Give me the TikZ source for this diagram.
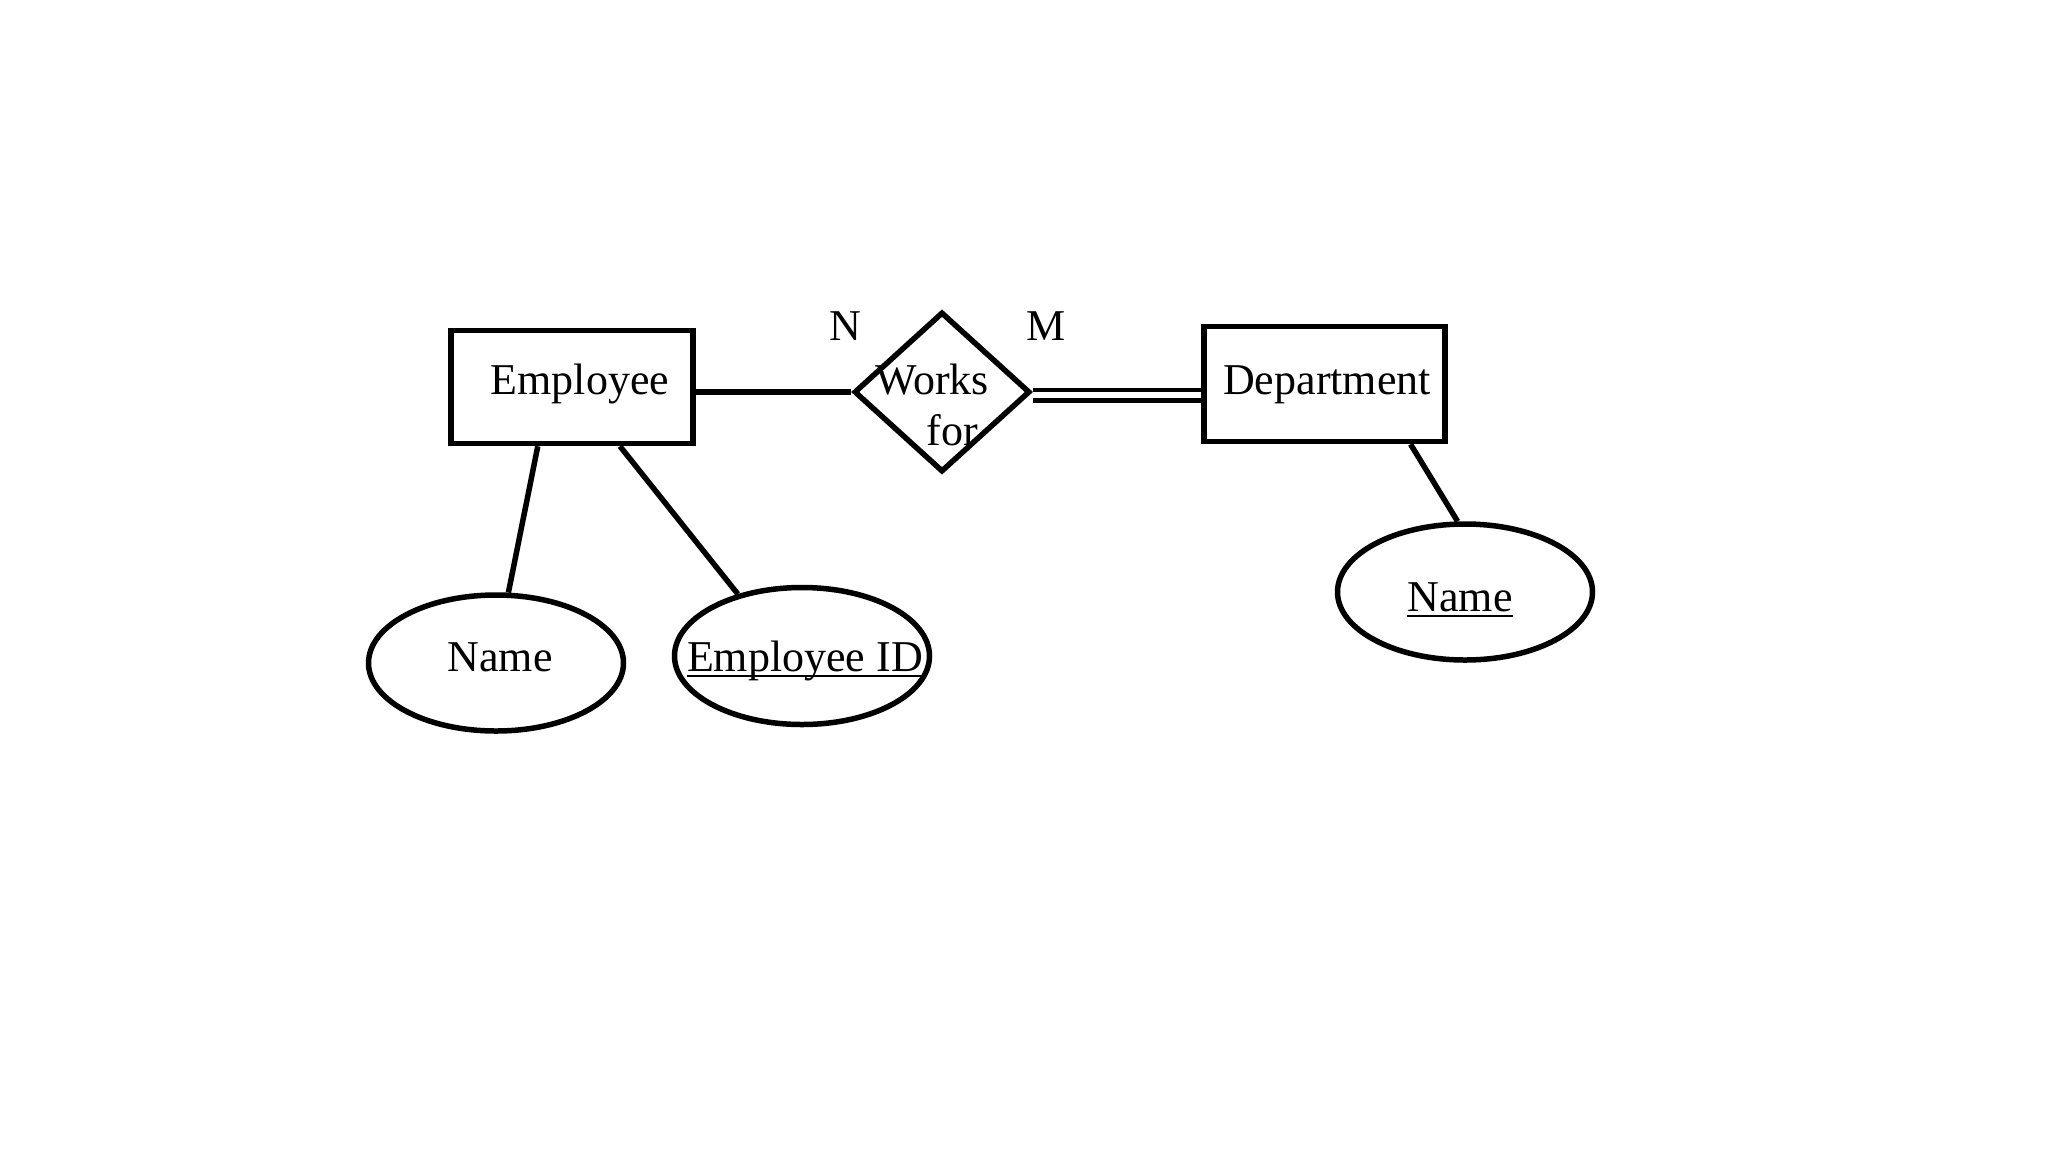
\documentclass[tikz,border=0pt]{standalone}
\usepackage{fontspec}
\setmainfont{Liberation Serif}
\usetikzlibrary{shapes.geometric}
\begin{document}
\begin{tikzpicture}[x=1pt,y=-1pt,
  ln/.style={line width=5.5pt},
  entity/.style={draw,line width=5.5pt,rectangle,inner sep=0pt},
  attr/.style={draw,line width=5.5pt,ellipse,inner sep=0pt},
  rel/.style={draw,line width=5.5pt,diamond,inner sep=0pt},
  txt/.style={inner sep=0pt,anchor=base,font=\fontsize{44}{50}\selectfont},
  uline/.style={line width=2pt}]
\path[use as bounding box, fill=white] (0,0) rectangle (2048,1152);

% entities
\node[entity, minimum width=242pt, minimum height=113pt] (emp) at (572,387) {};
\node[entity, minimum width=241pt, minimum height=115pt] (dept) at (1324.5,384) {};
% relationship
\node[rel, minimum width=176pt, minimum height=160pt] (rel) at (942,392) {};
% attributes
\node[attr, minimum width=255pt, minimum height=136pt] (ename) at (496,663) {};
\node[attr, minimum width=255pt, minimum height=137pt] (eid) at (802,656) {};
\node[attr, minimum width=255pt, minimum height=136pt] (dname) at (1465,592) {};

% texts
\node[txt] (tEmp) at (580,394) {Employee};
\node[txt] (tDept) at (1327,394) {Department};
\node[txt] (tWorks) at (932,394) {Works};
\node[txt] (tFor) at (952,445) {for};
\node[txt] (tN) at (845,340) {N};
\node[txt] (tM) at (1046,340) {M};
\node[txt] (tEname) at (500,671) {Name};
\node[txt] (tEid) at (805,671) {Employee ID};
\node[txt] (tDname) at (1460,611) {Name};
\draw[uline] ([yshift=-5pt]tEid.base west) -- ([yshift=-5pt]tEid.base east);
\draw[uline] ([yshift=-5pt]tDname.base west) -- ([yshift=-5pt]tDname.base east);

% connectors
\draw[ln] (rel.west -| emp.east) -- (rel.west);
\draw[line width=4.5pt, double, double distance=6pt] ([yshift=-3pt]rel.east) -- ([yshift=-3pt]rel.east -| dept.west);
\draw[ln] (emp.240) -- (ename.80);
\draw[ln] (emp.309) -- (eid.136);
\draw[ln] (dept.325) -- (dname.96);
\end{tikzpicture}
\end{document}
